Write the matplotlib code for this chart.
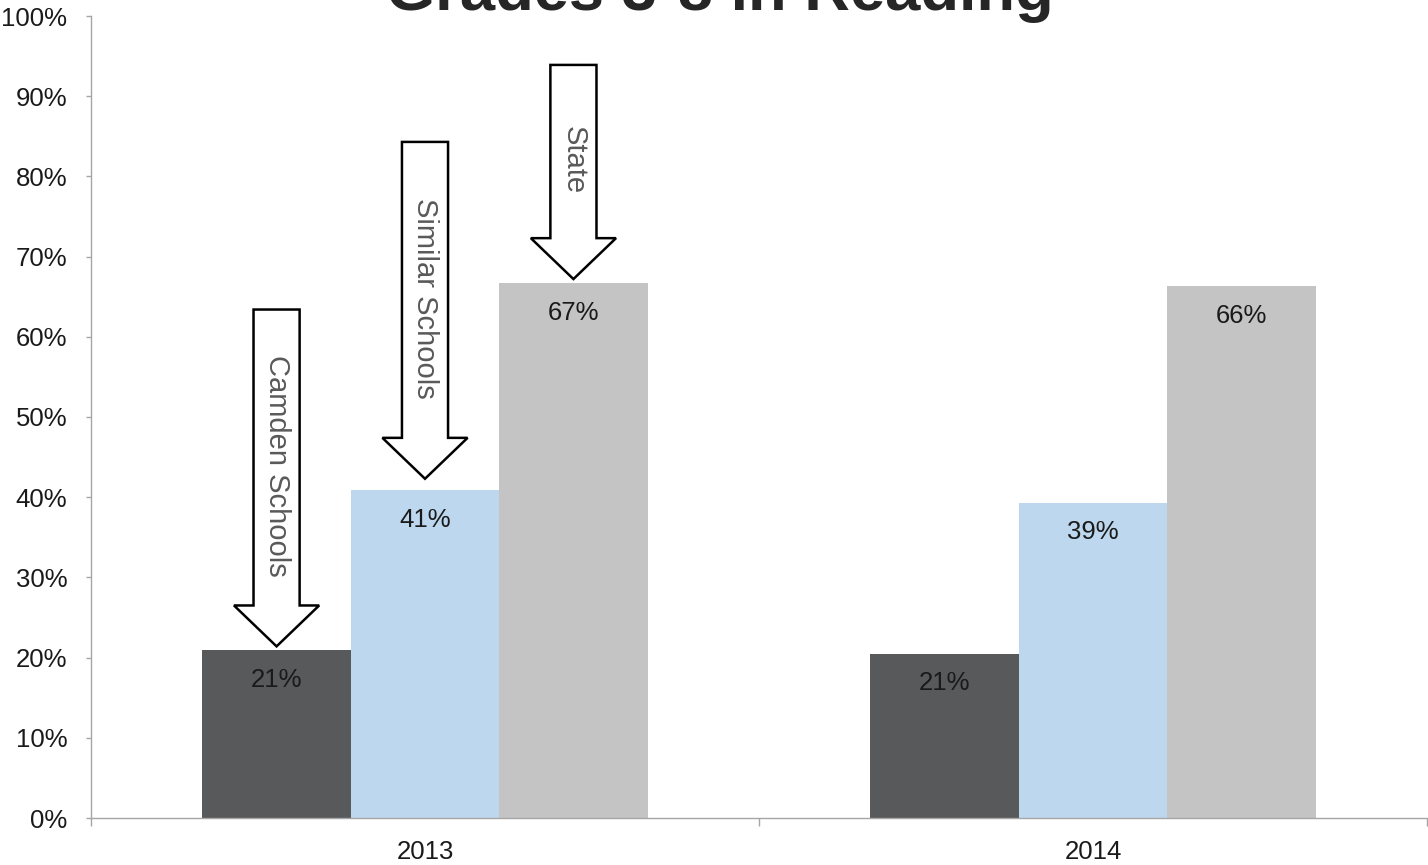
import matplotlib
matplotlib.use("Agg")
import matplotlib.pyplot as plt
from matplotlib.patches import Polygon
import numpy as np

plt.rcParams['font.family'] = ['Liberation Sans', 'DejaVu Sans']

title = "Grades 3-8 in Reading"
years = ["2013", "2014"]
series_names = ["Camden Schools", "Similar Schools", "State"]
camden = [20.9, 20.5]
similar = [40.9, 39.3]
state = [66.7, 66.3]
labels_camden = ["21%", "21%"]
labels_similar = ["41%", "39%"]
labels_state = ["67%", "66%"]
colors = ["#58595b", "#bdd7ee", "#c4c4c4"]
yticks = list(range(0, 101, 10))

# arrow callouts (2013 group): length and gap above bar, in percentage points
arrow_len = [42.0, 42.0, 26.7]
arrow_gap = [0.5, 1.4, 0.5]

fig = plt.figure(figsize=(14.28, 8.65), dpi=100)
ax = fig.add_axes([91/1428, 1-818/865, (1427-91)/1428, (818-16)/865])

x = np.arange(len(years))
w = 0.2222
vals = [camden, similar, state]
labs = [labels_camden, labels_similar, labels_state]
for i, (v, c, lb) in enumerate(zip(vals, colors, labs)):
    xs = x + (i - 1) * w
    ax.bar(xs, v, width=w, color=c, edgecolor='none', zorder=2)
    for xx, vv, tt in zip(xs, v, lb):
        ax.text(xx, vv - 3.7, tt, ha='center', va='center', fontsize=18.5, color='#1a1a1a', zorder=4)

ax.set_xlim(-0.5, 1.5)
ax.set_ylim(0, 100)
ax.set_yticks(yticks)
ax.set_yticklabels([f"{t}%" for t in yticks], fontsize=18.5, color='#1a1a1a')
ax.set_xticks([-0.5, 0.5, 1.5])
ax.set_xticklabels([])
ax.set_xticks(x, minor=True)
ax.set_xticklabels(years, minor=True, fontsize=18.5, color='#1a1a1a')
ax.tick_params(axis='x', which='major', length=6, color='#a6a6a6', width=1)
ax.tick_params(axis='x', which='minor', length=0, pad=15.5)
ax.tick_params(axis='y', length=3.6, color='#a6a6a6', width=1, pad=13.5)
for s in ['top', 'right']:
    ax.spines[s].set_visible(False)
for s in ['left', 'bottom']:
    ax.spines[s].set_color('#a6a6a6')
    ax.spines[s].set_linewidth(1)

# arrows pointing at 2013 bars
shaft_w = 0.069
head_w = 0.1275
head_len = 5.1
for i, name in enumerate(series_names):
    cx = x[0] + (i - 1) * w
    tip = vals[i][0] + arrow_gap[i]
    top = tip + arrow_len[i]
    base = tip + head_len
    pts = [(cx - shaft_w/2, top), (cx + shaft_w/2, top), (cx + shaft_w/2, base),
           (cx + head_w/2, base), (cx, tip), (cx - head_w/2, base), (cx - shaft_w/2, base)]
    ax.add_patch(Polygon(pts, closed=True, facecolor='white', edgecolor='black',
                         linewidth=1.8, zorder=5, clip_on=False, joinstyle='miter'))
    ax.text(cx, (top + base) / 2 - 1.1, name, rotation=-90, ha='center', va='center',
            fontsize=21, color='#595959', zorder=6)

fig.text(720/1428, 1 - 10/865, title, ha='center', va='baseline', fontsize=45.5,
         fontweight='bold', color='#262626')

fig.savefig("out.png", dpi=100)
